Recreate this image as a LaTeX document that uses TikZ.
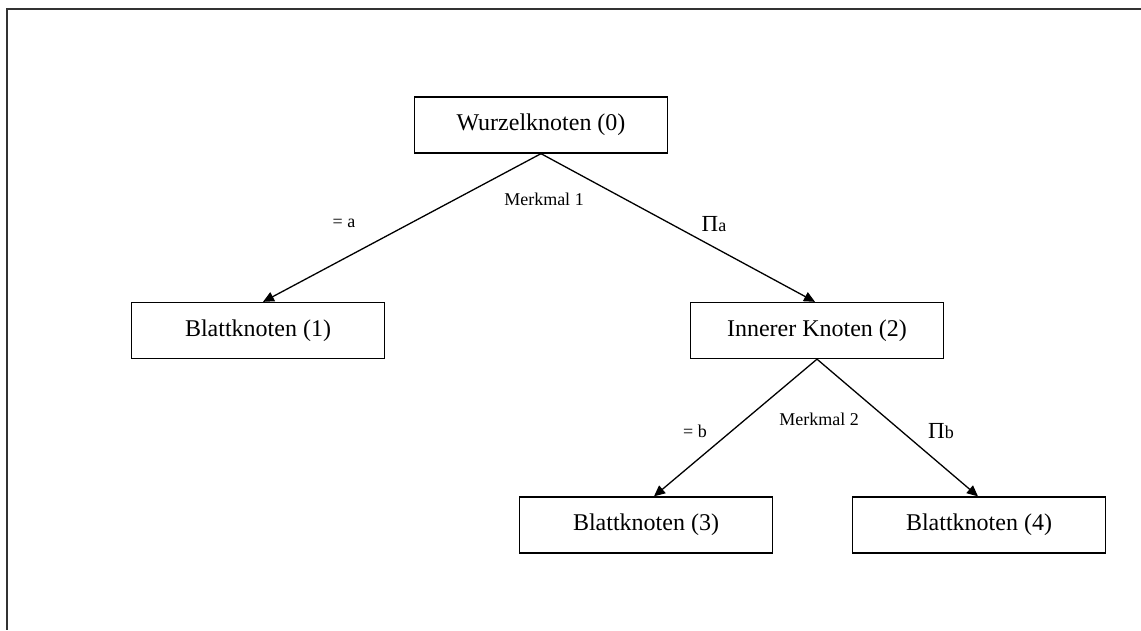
\documentclass[tikz,border=0pt]{standalone}
\usepackage{fontspec}
\setmainfont{Liberation Serif}
\usetikzlibrary{arrows.meta}
\newcommand{\bigpi}{{\fontsize{23}{24}\selectfont Π}}
\begin{document}
\begin{tikzpicture}[x=1pt,y=-1pt,
  treebox/.style={draw, line width=1.3pt, minimum width=253pt, minimum height=56pt,
    inner sep=0pt, font=\fontsize{24}{28}\selectfont},
  branch/.style={line width=1.3pt, -{Triangle[length=11pt,width=10pt]}},
  edgelabel/.style={inner sep=0pt, font=\fontsize{18}{21}\selectfont}]
  \useasboundingbox (0,0) rectangle (1141,630);
  % open frame: top and left edges only
  \draw[line width=2pt, black!80] (1141,8.5) -- (6.5,8.5) -- (6.5,630);

  \node[treebox] (root) at (541,125) {Wurzelknoten (0)};
  \node[treebox] (leaf1) at (258,330.5) {Blattknoten (1)};
  \node[treebox] (inner) at (817,330.5) {Innerer Knoten (2)};
  \node[treebox] (leaf3) at (646,525) {Blattknoten (3)};
  \node[treebox] (leaf4) at (979,525) {Blattknoten (4)};

  \draw[branch] (root.south) -- ([xshift=5pt]leaf1.north);
  \draw[branch] (root.south) -- ([xshift=-2pt]inner.north);
  \draw[branch] (inner.south) -- ([xshift=8pt]leaf3.north);
  \draw[branch] (inner.south) -- ([xshift=-1pt]leaf4.north);

  \node[edgelabel] (la) at (344,223) {= a};
  \node[edgelabel] (m1) at (544,199) {Merkmal 1};
  \node[edgelabel, anchor=base] (na) at (714,231) {\bigpi a};
  \node[edgelabel] (lb) at (695,431) {= b};
  \node[edgelabel] (m2) at (819,419) {Merkmal 2};
  \node[edgelabel, anchor=base] (nb) at (941,438) {\bigpi b};
\end{tikzpicture}
\end{document}
